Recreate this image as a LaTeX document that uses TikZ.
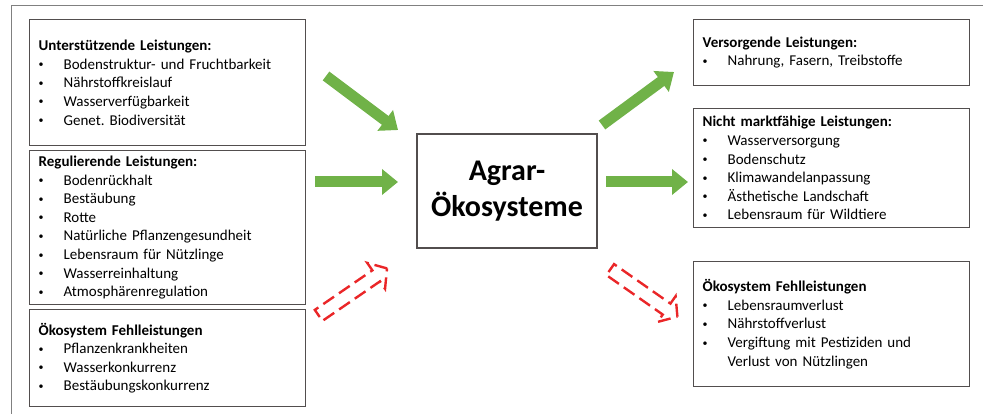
\documentclass[tikz,border=0pt]{standalone}
\usepackage{fontspec}
\setmainfont{Carlito}
\usetikzlibrary{arrows.meta,shapes.arrows}
\definecolor{boxgray}{RGB}{82,78,78}
\definecolor{arrowgreen}{RGB}{112,178,72}
\definecolor{arrowred}{RGB}{234,38,40}
\newcommand{\itm}{\\\makebox[25pt][l]{\raisebox{1.5pt}{\fontsize{10}{10}\selectfont\textbullet}}}
\frenchspacing
\tikzset{
  infobox/.style={draw=boxgray, line width=1.3pt, anchor=north west, minimum width=276pt,
    text width=258pt, inner xsep=9pt, align=left, font=\fontsize{15}{18.6}\selectfont},
  greenarrow/.style={arrowgreen, line width=11pt, -{Triangle[width=25pt,length=16pt]}},
  redarrow/.style={single arrow, draw=arrowred, dash pattern=on 13pt off 6pt, line width=2.4pt,
    single arrow head extend=9pt, single arrow tip angle=100, inner xsep=0pt, inner ysep=5.5pt}
}
\begin{document}
\begin{tikzpicture}[x=1pt, y=-1pt]
    \useasboundingbox (0,0) rectangle (983,414);
    % frame
    \draw[gray, thin] (11,414) -- (11,5) -- (983,5);
    % left column
    \node[infobox, minimum height=126pt] (unterst) at (29,19)
      {\textbf{Unterstützende Leistungen:}\itm Bodenstruktur- und Fruchtbarkeit\itm Nährstoffkreislauf\itm Wasserverfügbarkeit\itm Genet. Biodiversität};
    \node[infobox, minimum height=154pt] (regul) at (29,150)
      {\textbf{Regulierende Leistungen:}\itm Bodenrückhalt\itm Bestäubung\itm Rotte\itm Natürliche Pflanzengesundheit\itm Lebensraum für Nützlinge\itm Wasserreinhaltung\itm Atmosphärenregulation};
    \node[infobox, minimum height=97pt] (fehlin) at (29,309)
      {\textbf{Ökosystem Fehlleistungen}\itm Pflanzenkrankheiten\itm Wasserkonkurrenz\itm Bestäubungskonkurrenz};
    % centre
    \node[draw=boxgray, line width=1.3pt, minimum width=180pt, minimum height=114pt, align=center,
      font=\fontsize{30}{36}\selectfont\bfseries] (agrar) at (507,191) {Agrar-\\Ökosysteme};
    % right column
    \node[infobox, minimum height=66pt] (versorg) at (693,19)
      {\textbf{Versorgende Leistungen:}\itm Nahrung, Fasern, Treibstoffe};
    \node[infobox, minimum height=119pt] (nichtmarkt) at (693,108)
      {\textbf{Nicht marktfähige Leistungen:}\itm Wasserversorgung\itm Bodenschutz\itm Klimawandelanpassung\itm Ästhetische Landschaft\itm Lebensraum für Wildtiere};
    \node[infobox, minimum height=125pt] (fehlout) at (693,261)
      {\textbf{Ökosystem Fehlleistungen}\itm Lebensraumverlust\itm Nährstoffverlust\itm Vergiftung mit Pestiziden und\\\hspace*{25pt}Verlust von Nützlingen};
    % green arrows
    \coordinate (unterstout) at (326,76);
    \coordinate (agrarinA) at (398,130);
    \coordinate (regulout) at (315,182);
    \coordinate (agrarinB) at (398,182);
    \coordinate (agraroutA) at (602,125);
    \coordinate (versorgin) at (674,72);
    \coordinate (agraroutB) at (606,182);
    \coordinate (nichtmarktin) at (688,182);
    \draw[greenarrow] (unterstout) -- (agrarinA);
    \draw[greenarrow] (regulout) -- (agrarinB);
    \draw[greenarrow] (agraroutA) -- (versorgin);
    \draw[greenarrow] (agraroutB) -- (nichtmarktin);
    % red arrows
    \node[redarrow, minimum height=83pt, rotate=34.5] (fehlinarrow) at (350.5,293.5) {};
    \node[redarrow, minimum height=82pt, rotate=-35] (fehloutarrow) at (641.5,291.5) {};
\end{tikzpicture}
\end{document}
